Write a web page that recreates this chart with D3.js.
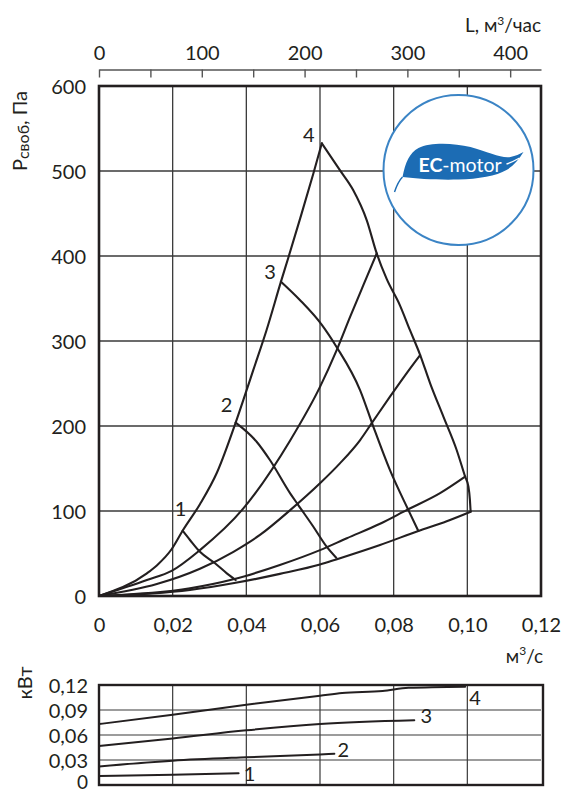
<!DOCTYPE html>
<html>
<head>
<meta charset="utf-8">
<script src="https://cdnjs.cloudflare.com/ajax/libs/d3/7.8.5/d3.min.js"></script>
<style>
  html, body { margin: 0; padding: 0; background: #fff; }
  svg { display: block; font-family: Lato, "Open Sans", sans-serif; }
</style>
</head>
<body>
<svg id="chart" width="561" height="793"></svg>
<script>
// ---- axes ----
const flowTicks = [0, 0.02, 0.04, 0.06, 0.08, 0.10, 0.12];
const flowTickLabels = ["0", "0,02", "0,04", "0,06", "0,08", "0,10", "0,12"];
const pressureTicks = [0, 100, 200, 300, 400, 500, 600];
const hourTicks = [0, 50, 100, 150, 200, 250, 300, 350, 400];
const hourTickLabels = ["0", "", "100", "", "200", "", "300", "", "400"];
const powerTicks = [0, 0.03, 0.06, 0.09, 0.12];
const powerTickLabels = ["0", "0,03", "0,06", "0,09", "0,12"];

// ---- pressure curves: [flow m³/s, pressure Pa] ----
// left limit line through the top points of each speed
const envelope = [[0, 0], [0.013, 26.7], [0.0157, 36], [0.0197, 55], [0.0227, 76.8],
  [0.0274, 108], [0.032, 145], [0.0371, 204], [0.0396, 236],
  [0.0419, 266], [0.0455, 313], [0.0494, 369.8], [0.0514, 398], [0.0546, 444],
  [0.0582, 497], [0.0605, 532.6]];
// fan curves for speed settings 1..4
const fan1 = [[0.0227, 76.8], [0.0247, 65.9], [0.0274, 52], [0.0315, 38.5], [0.0347, 26.7], [0.0371, 18.8]];
const fan2 = [[0.0371, 204], [0.0428, 181.5], [0.0464, 160], [0.0519, 120.8], [0.0541, 107],
  [0.0582, 81.5], [0.0618, 58], [0.0644, 45]];
const fan3 = [[0.0494, 369.8], [0.0546, 348], [0.0605, 319], [0.0645, 293], [0.0709, 242],
  [0.0745, 199], [0.079, 148], [0.084, 101], [0.0867, 76.5]];
const fan4 = [[0.0605, 532.6], [0.0654, 501], [0.069, 477.6], [0.0727, 442], [0.0754, 403],
  [0.0781, 373], [0.0817, 342], [0.0844, 313], [0.0872, 283.5], [0.0899, 250.2],
  [0.0935, 211], [0.0971, 171.8], [0.0994, 140.4], [0.1003, 128.6], [0.1007, 113], [0.1009, 99.2]];
// system resistance lines
const system1 = [[0, 0], [0.013, 18.8], [0.0197, 29.5], [0.0274, 54], [0.0392, 103],
  [0.0519, 183], [0.06, 246], [0.0645, 289], [0.0682, 328.6], [0.0718, 366], [0.0754, 403]];
const system2 = [[0, 0], [0.0157, 14], [0.0274, 32], [0.0365, 52], [0.0437, 71.8], [0.0519, 101],
  [0.06, 132.6], [0.0654, 156], [0.0709, 183.5], [0.074, 203], [0.079, 234.5], [0.0835, 262], [0.0872, 283.5]];
const system3 = [[0, 0], [0.0247, 9], [0.0365, 19.6], [0.0491, 36.5], [0.06, 54], [0.0673, 68],
  [0.0763, 85], [0.0835, 101], [0.0926, 121], [0.0994, 140.4]];
const system4 = [[0, 0], [0.0247, 7], [0.0371, 15.5], [0.0491, 26], [0.06, 37], [0.0644, 43],
  [0.0763, 60], [0.0867, 76.5], [0.0944, 88], [0.1009, 99.2]];

// ---- power consumption, kW ----
const power1 = [[0, 0.0109], [0.02, 0.0122], [0.0379, 0.0142]];
const power2 = [[0, 0.0223], [0.02, 0.0292], [0.04, 0.0333], [0.06, 0.0366], [0.0639, 0.0374]];
const power3 = [[0, 0.0469], [0.02, 0.0559], [0.04, 0.0656], [0.06, 0.0731], [0.0856, 0.0776]];
const power4 = [[0, 0.0731], [0.02, 0.0844], [0.04, 0.0964], [0.06, 0.1071], [0.066, 0.1105],
  [0.077, 0.1127], [0.084, 0.1166], [0.0994, 0.118]];
const speedNames = ["1", "2", "3", "4"];

const svg = d3.select("#chart");
const ink = "#231f20";
const gridInk = "#3a3a3a";
const fontStack = "Lato, 'Open Sans', sans-serif";

// scales
const x = d3.scaleLinear().domain([0, 0.12]).range([99, 541]);
const y = d3.scaleLinear().domain([0, 600]).range([596, 86]);
const xHour = d3.scaleLinear().domain([0, 430]).range([99, 541]);
const yP = d3.scaleLinear().domain([0, 0.12]).range([785, 685]);

const line = (sx, sy) => d3.line().x(d => sx(d[0])).y(d => sy(d[1])).curve(d3.curveMonotoneX);

// ---------- main chart grid ----------
const grid = svg.append("g");
grid.selectAll("line.v").data(flowTicks.slice(1, -1)).join("line")
  .attr("x1", d => x(d)).attr("x2", d => x(d)).attr("y1", y(600)).attr("y2", y(0))
  .attr("stroke", gridInk).attr("stroke-width", 1.3);
grid.selectAll("line.h").data(pressureTicks.slice(1, -1)).join("line")
  .attr("x1", x(0)).attr("x2", x(0.12)).attr("y1", d => y(d)).attr("y2", d => y(d))
  .attr("stroke", gridInk).attr("stroke-width", 1.3);

// ---------- EC-motor badge ----------
const badge = svg.append("g").attr("transform", "translate(458.5,170)");
badge.append("circle").attr("r", 75).attr("fill", "#fff")
  .attr("stroke", "#3b84c5").attr("stroke-width", 2);
badge.append("path")
  .attr("d", "M-56,7 C-53,-8 -49,-17 -40,-22 C-28,-28 -5,-27 12,-23 C30,-18 44,-11 52,-13 C57,-14 61,-16 65,-18 C60,-10 55,-4 48,0 C38,6 20,9 0,9.5 C-20,10 -40,9 -56,7 Z")
  .attr("fill", "#1c6cb4");
badge.append("path").attr("d", "M-56,7 C-60,11 -62,16 -64,22")
  .attr("fill", "none").attr("stroke", "#1c6cb4").attr("stroke-width", 1.4);
badge.append("path").attr("d", "M48,-6 Q54,-8 61,-12")
  .attr("fill", "none").attr("stroke", "#fff").attr("stroke-width", 1.4);
const ecText = badge.append("text").attr("x", -40).attr("y", 2)
  .attr("fill", "#fff").attr("font-size", 19.5);
ecText.append("tspan").attr("font-weight", 700).text("EC");
ecText.append("tspan").text("-motor");

// ---------- pressure curves ----------
const curves = svg.append("g").attr("fill", "none").attr("stroke", ink)
  .attr("stroke-width", 2.1).attr("stroke-linejoin", "round").attr("stroke-linecap", "round");
[envelope, fan1, fan2, fan3, fan4, system1, system2, system3, system4].forEach(s => {
  curves.append("path").attr("d", line(x, y)(s));
});

// speed labels at the top of each fan curve
const peaks = [fan1[0], fan2[0], fan3[0], fan4[0]];
const peakOffsets = [[-2, -22], [-9, -18], [-11, -10], [-13, -8]];
svg.append("g").selectAll("text").data(peaks).join("text")
  .attr("x", (d, i) => x(d[0]) + peakOffsets[i][0])
  .attr("y", (d, i) => y(d[1]) + peakOffsets[i][1])
  .attr("dy", "0.35em").attr("text-anchor", "middle")
  .attr("font-size", 20).attr("fill", ink)
  .text((d, i) => speedNames[i]);

// frame
svg.append("rect").attr("x", x(0)).attr("y", y(600))
  .attr("width", x(0.12) - x(0)).attr("height", y(0) - y(600))
  .attr("fill", "none").attr("stroke", ink).attr("stroke-width", 2.6);

// ---------- main axes ----------
const xAxis = svg.append("g").attr("transform", `translate(0,${y(0)})`)
  .call(d3.axisBottom(x).tickValues(flowTicks).tickFormat((d, i) => flowTickLabels[i]).tickSize(0));
xAxis.select(".domain").remove();
xAxis.selectAll("text").attr("y", 29).attr("dy", "0.35em")
  .attr("font-size", 20).attr("fill", ink).attr("font-family", fontStack);

const yAxis = svg.append("g").attr("transform", `translate(${x(0)},0)`)
  .call(d3.axisLeft(y).tickValues(pressureTicks).tickSize(0));
yAxis.select(".domain").remove();
yAxis.selectAll("text").attr("x", -13).attr("dy", "0.35em")
  .attr("font-size", 20).attr("fill", ink).attr("font-family", fontStack);

const topAxis = svg.append("g").attr("transform", "translate(0,69.5)")
  .call(d3.axisBottom(xHour).tickValues(hourTicks).tickFormat((d, i) => hourTickLabels[i])
    .tickSize(8).tickSizeOuter(0));
topAxis.select(".domain").attr("stroke", "#555").attr("stroke-width", 1.4);
topAxis.selectAll(".tick line").attr("stroke", "#555").attr("stroke-width", 1.4);
topAxis.selectAll("text").attr("y", -17).attr("dy", "0.35em")
  .attr("font-size", 20).attr("fill", ink).attr("font-family", fontStack);

// axis titles
const topTitle = svg.append("text").attr("x", 541).attr("y", 32).attr("text-anchor", "end")
  .attr("font-size", 19).attr("fill", ink);
topTitle.append("tspan").text("L, м");
topTitle.append("tspan").attr("font-size", 12).attr("dy", -7).text("3");
topTitle.append("tspan").attr("dy", 7).text("/час");

const unitTitle = svg.append("text").attr("x", 543).attr("y", 663).attr("text-anchor", "end")
  .attr("font-size", 19).attr("fill", ink);
unitTitle.append("tspan").text("м");
unitTitle.append("tspan").attr("font-size", 12).attr("dy", -8).text("3");
unitTitle.append("tspan").attr("dy", 8).text("/с");

const pTitle = svg.append("text").attr("transform", "translate(27,131) rotate(-90)")
  .attr("text-anchor", "middle").attr("font-size", 20).attr("fill", ink);
pTitle.append("tspan").text("Р");
pTitle.append("tspan").attr("font-size", 16).attr("dy", 2).text("своб");
pTitle.append("tspan").attr("dy", -2).text(", Па");

// ---------- power chart ----------
const pgrid = svg.append("g");
pgrid.selectAll("line.v").data(flowTicks.slice(1, -1)).join("line")
  .attr("x1", d => x(d)).attr("x2", d => x(d)).attr("y1", yP(0.12)).attr("y2", yP(0))
  .attr("stroke", gridInk).attr("stroke-width", 1.2);
pgrid.selectAll("line.h").data(powerTicks.slice(1, -1)).join("line")
  .attr("x1", x(0)).attr("x2", x(0.12)).attr("y1", d => yP(d)).attr("y2", d => yP(d))
  .attr("stroke", gridInk).attr("stroke-width", 1.2);

const powerSeries = [power1, power2, power3, power4];
const pcurves = svg.append("g").attr("fill", "none").attr("stroke", ink)
  .attr("stroke-width", 2).attr("stroke-linecap", "round");
powerSeries.forEach(s => pcurves.append("path").attr("d", line(x, yP)(s)));

// speed labels beyond each power line end
const endOffsets = [[11, 1], [9, -4], [12, -4], [10, 11]];
svg.append("g").selectAll("text").data(powerSeries).join("text")
  .attr("x", (s, i) => x(s[s.length - 1][0]) + endOffsets[i][0])
  .attr("y", (s, i) => yP(s[s.length - 1][1]) + endOffsets[i][1])
  .attr("dy", "0.35em").attr("text-anchor", "middle")
  .attr("font-size", 20).attr("fill", ink)
  .text((s, i) => speedNames[i]);

svg.append("rect").attr("x", x(0)).attr("y", yP(0.12))
  .attr("width", x(0.12) - x(0) + 2).attr("height", yP(0) - yP(0.12))
  .attr("fill", "none").attr("stroke", ink).attr("stroke-width", 2.4);

const pAxis = svg.append("g").attr("transform", `translate(${x(0)},0)`)
  .call(d3.axisLeft(yP).tickValues(powerTicks).tickFormat((d, i) => powerTickLabels[i]).tickSize(0));
pAxis.select(".domain").remove();
pAxis.selectAll("text").attr("x", -11).attr("dy", "0.35em")
  .attr("font-size", 20).attr("fill", ink).attr("font-family", fontStack);
// keep the lowest label inside the page
pAxis.selectAll("text").filter(d => d === 0).attr("dy", "0.2em").attr("font-size", 19);

svg.append("text").attr("transform", "translate(32,683) rotate(-90)")
  .attr("text-anchor", "middle").attr("font-size", 20).attr("fill", ink).text("кВт");
</script>
</body>
</html>
